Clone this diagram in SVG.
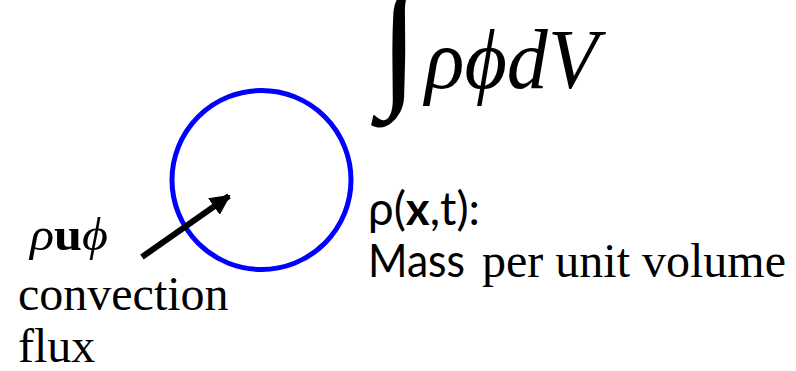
<svg xmlns="http://www.w3.org/2000/svg" width="796" height="371" viewBox="0 0 796 371">
<defs>
<style>
.serif{font-family:"Liberation Serif","Times New Roman",serif;fill:#000}
.sans{font-family:Lato,"Liberation Sans",Arial,sans-serif;fill:#000}
.it{font-style:italic}
.b{font-weight:bold}
</style>
<marker id="ah" viewBox="0 0 10 10" refX="9" refY="5" markerWidth="3.4" markerHeight="3.4" orient="auto" markerUnits="strokeWidth">
<path d="M0,0 L10,5 L0,10 z" fill="#000"/>
</marker>
</defs>
<rect width="796" height="371" fill="#fff"/>
<g id="volume">
<circle cx="261.5" cy="180" r="89.5" fill="none" stroke="#0000ff" stroke-width="5"/>
</g>
<g id="integral">
<text class="serif" x="379" y="88" font-size="148">∫</text>
<text class="serif it" x="425" y="88" font-size="84" textLength="173" lengthAdjust="spacingAndGlyphs">ρϕdV</text>
</g>
<g id="flux-label">
<text class="serif" x="30" y="250" font-size="46" textLength="78" lengthAdjust="spacingAndGlyphs"><tspan class="it">ρ</tspan><tspan class="b">u</tspan><tspan class="it">ϕ</tspan></text>
<text class="serif" x="18" y="310" font-size="48">convection</text>
<text class="serif" x="18" y="362" font-size="48">flux</text>
</g>
<g id="density-label">
<text class="sans" x="368" y="225" font-size="46" textLength="112" lengthAdjust="spacingAndGlyphs">ρ(<tspan class="b">x</tspan>,t):</text>
<text x="368" y="277"><tspan class="sans" font-size="46" textLength="97" lengthAdjust="spacingAndGlyphs">Mass</tspan><tspan class="serif" font-size="48" x="482">per unit volume</tspan></text>
</g>
<g id="connectors">
<line x1="142" y1="257" x2="229" y2="196" stroke="#000" stroke-width="6" marker-end="url(#ah)"/>
</g>
</svg>
